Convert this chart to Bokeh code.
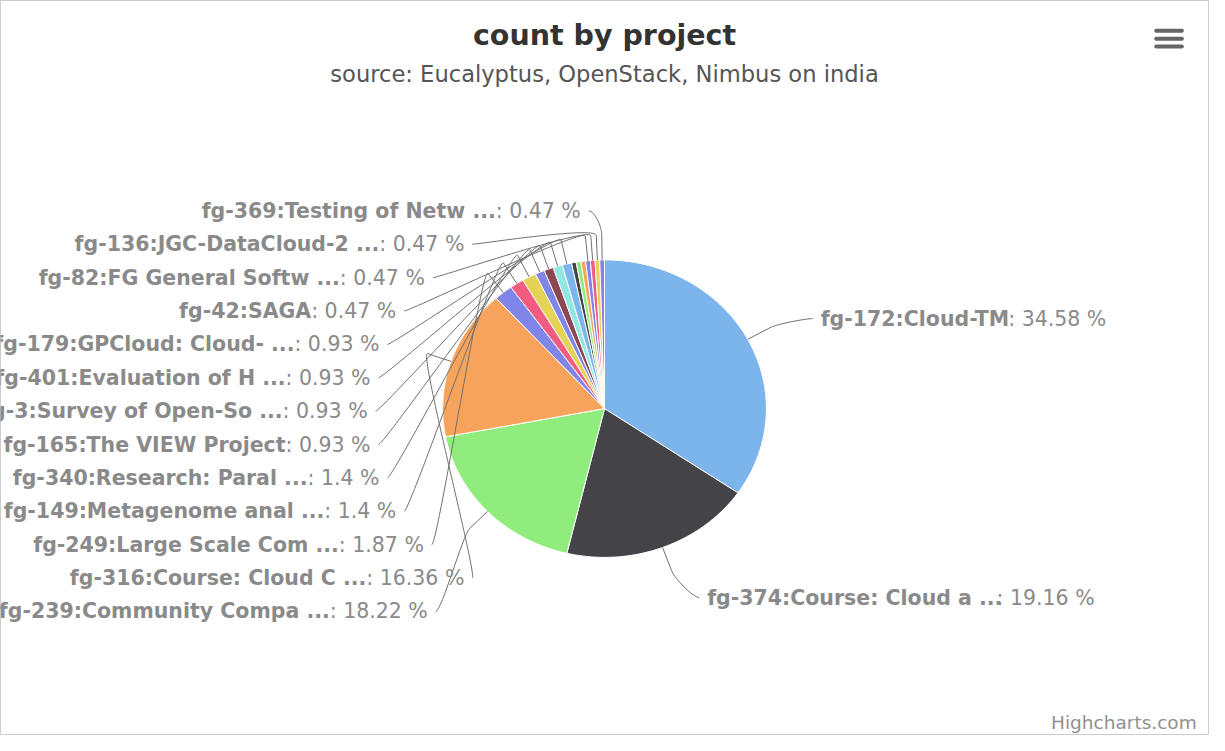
import math
from bokeh.plotting import figure
from bokeh.models import Range1d
from bokeh.core.properties import value
from bokeh.embed import file_html
from bokeh.resources import INLINE

# ---------------- data ----------------
chart_title = "count by project"
chart_subtitle = "source: Eucalyptus, OpenStack, Nimbus on india"
credits_text = "Highcharts.com"

projects = [
    "fg-172:Cloud-TM",
    "fg-374:Course: Cloud a ...",
    "fg-239:Community Compa ...",
    "fg-316:Course: Cloud C ...",
    "fg-249:Large Scale Com ...",
    "fg-149:Metagenome anal ...",
    "fg-340:Research: Paral ...",
    "fg-165:The VIEW Project",
    "fg-3:Survey of Open-So ...",
    "fg-401:Evaluation of H ...",
    "fg-179:GPCloud: Cloud- ...",
    None,  # label hidden in the original (overlap)
    None,
    None,
    "fg-42:SAGA",
    "fg-82:FG General Softw ...",
    "fg-136:JGC-DataCloud-2 ...",
    "fg-369:Testing of Netw ...",
]
counts = [74, 41, 39, 35, 4, 3, 3, 2, 2, 2, 2, 1, 1, 1, 1, 1, 1, 1]

palette = ['#7cb5ec', '#434348', '#90ed7d', '#f7a35c', '#8085e9',
           '#f15c80', '#e4d354', '#8085e8', '#8d4653', '#91e8e1']

# ---------------- layout (reference pixel coordinates) ----------------
W, H = 1209, 735
REF_W, REF_H = 1225, 751
CX, CY = 612, 417          # pie centre
RX, RY = 164, 152          # pie radii
LABEL_FS = 20.5
ROW_TOP, ROW_STEP = 215, 34.1
left_label_end = [588, 470, 430, 401, 384, 375, 372, 375, 384, 401, 429, 470, 433]
right_label_start = [(831, 325), (716, 610)]
SX = W / REF_W             # screen px per reference px (for text width estimates)

NORMAL_W = {' ': 318, ':': 337, '.': 318, '%': 950}
BOLD_W = {'f': 435, 'g': 716, '-': 415, ':': 400, 'C': 734, 'l': 343, 'o': 687,
          'u': 712, 'd': 716, 'T': 682, 'M': 995, 'r': 493, 's': 595, 'e': 678,
          ' ': 348, 'a': 675, '.': 380}


def text_w(s, table, digit, fs):
    tot = 0
    for ch in s:
        if ch.isdigit():
            tot += digit
        else:
            tot += table.get(ch, 640)
    return tot / 1000.0 * fs / SX   # in reference px


total = sum(counts)
font = value("DejaVu Sans")

p = figure(width=W, height=H, x_range=Range1d(0, REF_W), y_range=Range1d(REF_H, 0),
           x_axis_type=None, y_axis_type=None, toolbar_location=None,
           output_backend="svg", min_border=0)
p.grid.visible = False
p.outline_line_color = "#cccccc"
p.outline_line_width = 1
p.background_fill_color = "white"
p.border_fill_color = "white"

# ---------------- slices ----------------
xs, ys, cols = [], [], []
mids = []
cum = 0
for i, c in enumerate(counts):
    a0 = 2 * math.pi * cum / total
    a1 = 2 * math.pi * (cum + c) / total
    n = max(3, int(math.degrees(a1 - a0)) + 2)
    px, py = [CX], [CY]
    for k in range(n):
        a = a0 + (a1 - a0) * k / (n - 1)
        px.append(CX + RX * math.sin(a))
        py.append(CY - RY * math.cos(a))
    xs.append(px)
    ys.append(py)
    cols.append(palette[i % len(palette)])
    mids.append(2 * math.pi * (cum + c / 2) / total)
    cum += c

p.patches(xs, ys, fill_color=cols, line_color="white", line_width=1)


def edge_pt(a, dr):
    return (CX + (RX + dr) * math.sin(a), CY - (RY + dr) * math.cos(a))


def pct_text(c):
    return ": " + str(round(100.0 * c / total, 2)) + " %"


# ---------------- labels & connectors ----------------
bz = dict(x0=[], y0=[], x1=[], y1=[], cx0=[], cy0=[], cx1=[], cy1=[])
sg = dict(x0=[], y0=[], x1=[], y1=[])
names_l = dict(x=[], y=[], text=[])
pcts_l = dict(x=[], y=[], text=[])
names_r = dict(x=[], y=[], text=[])
pcts_r = dict(x=[], y=[], text=[])


def add_connector(sx, sy, a, left):
    p4 = edge_pt(a, 0)
    p2 = edge_pt(a, 25)
    c2 = edge_pt(a, 35)
    c1x = sx + (6 if left else -6)
    bz['x0'].append(sx); bz['y0'].append(sy)
    bz['x1'].append(p2[0]); bz['y1'].append(p2[1])
    bz['cx0'].append(c1x); bz['cy0'].append(sy)
    bz['cx1'].append(c2[0]); bz['cy1'].append(c2[1])
    sg['x0'].append(p2[0]); sg['y0'].append(p2[1])
    sg['x1'].append(p4[0]); sg['y1'].append(p4[1])


# right half: first two slices
for idx in range(2):
    sx, sy = right_label_start[idx]
    name = projects[idx]
    wn = text_w(name, BOLD_W, 696, LABEL_FS) * 0.98
    names_r['x'].append(sx); names_r['y'].append(sy); names_r['text'].append(name)
    pcts_r['x'].append(sx + wn); pcts_r['y'].append(sy); pcts_r['text'].append(pct_text(counts[idx]))
    add_connector(sx - 8, sy, mids[idx], left=False)

# left half: labelled slices, top row = last slice
left_idx = [i for i in range(2, len(counts)) if projects[i] is not None][::-1]
for row, idx in enumerate(left_idx):
    y = ROW_TOP + row * ROW_STEP
    end = left_label_end[row]
    pt = pct_text(counts[idx])
    wp = text_w(pt, NORMAL_W, 636, LABEL_FS)
    pcts_l['x'].append(end); pcts_l['y'].append(y); pcts_l['text'].append(pt)
    names_l['x'].append(end - wp); names_l['y'].append(y); names_l['text'].append(projects[idx])
    add_connector(end + 8, y, mids[idx], left=True)

p.bezier(line_color="#707070", line_width=1, **bz)
p.segment(line_color="#707070", line_width=1, **sg)

lab_color = "#8a8a8a"
common = dict(text_font=font, text_font_size=f"{LABEL_FS}px", text_baseline="middle",
              text_color=lab_color)
p.text(text_align="right", text_font_style="bold", **names_l, **common)
p.text(text_align="right", text_font_style="normal", **pcts_l, **common)
p.text(text_align="left", text_font_style="bold", **names_r, **common)
p.text(text_align="left", text_font_style="normal", **pcts_r, **common)

# ---------------- titles, credits, menu ----------------
p.text(x=[CX], y=[36], text=[chart_title], text_font=font, text_font_size="28.5px",
       text_font_style="bold", text_color="#333333", text_align="center", text_baseline="middle")
p.text(x=[CX], y=[75], text=[chart_subtitle], text_font=font, text_font_size="22.6px",
       text_color="#555555", text_align="center", text_baseline="middle")
p.text(x=[1212], y=[738], text=[credits_text], text_font=font, text_font_size="18.5px",
       text_color="#909090", text_align="right", text_baseline="middle")
p.segment(x0=[1171] * 3, y0=[31, 39, 47], x1=[1197] * 3, y1=[31, 39, 47],
          line_color="#666666", line_width=4, line_cap="round")

open("out.html", "w").write(file_html(p, INLINE))
